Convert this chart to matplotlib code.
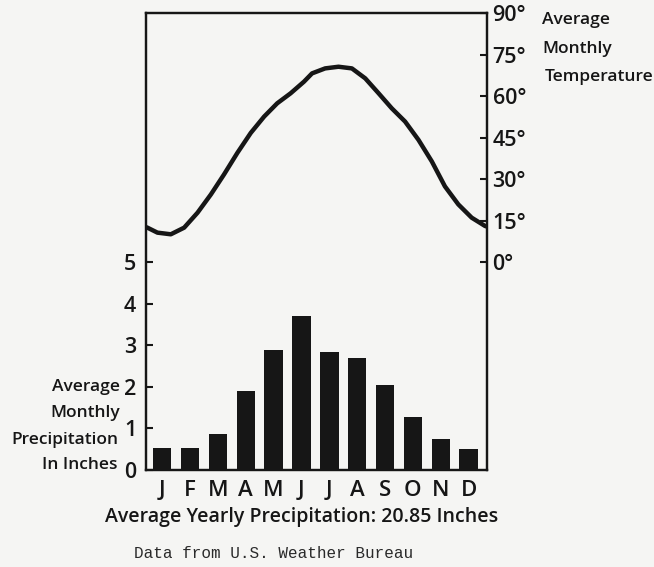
import matplotlib
matplotlib.use("Agg")
import matplotlib.pyplot as plt

# Monthly precipitation (inches)
months = ["J", "F", "M", "A", "M", "J", "J", "A", "S", "O", "N", "D"]
precip = [0.54, 0.54, 0.86, 1.91, 2.90, 3.70, 2.85, 2.69, 2.04, 1.28, 0.74, 0.50]

# Temperature curve (deg F) (x in month units)
temp_x = [-0.61, -0.53, -0.17, 0.31, 0.79, 1.27, 1.75, 2.22, 2.70, 3.18,
          3.66, 4.13, 4.61, 5.09, 5.38, 5.85, 6.33, 6.81, 7.29, 7.77,
          8.24, 8.72, 9.20, 9.68, 10.15, 10.63, 11.11, 11.59, 11.66]
temp_y = [12.8, 12.5, 10.7, 10.1, 12.5, 17.9, 24.5, 31.7, 39.5, 46.7,
          52.6, 57.4, 61.0, 65.2, 68.2, 70.0, 70.6, 70.0, 66.4, 61.0,
          55.6, 50.8, 44.2, 36.4, 27.4, 20.9, 16.1, 13.1, 12.9]

precip_ticks = [0, 1, 2, 3, 4, 5]
temp_ticks = [0, 15, 30, 45, 60, 75, 90]
temp_labels = ["0°", "15°", "30°", "45°", "60°", "75°", "90°"]

ink = "#161616"
bg = "#f5f5f3"
sans = ["Open Sans", "DejaVu Sans"]

fig = plt.figure(figsize=(6.54, 5.67), dpi=100, facecolor=bg)
ax = fig.add_axes([146 / 654, 1 - 470 / 567, 341 / 654, 457 / 567])
ax.set_facecolor(bg)

x = list(range(len(months)))
ax.bar(x, precip, width=0.66, color=ink, zorder=2)
ax.set_xlim(-0.58, 11.66)
ax.set_ylim(0, 11)
ax.set_yticks(precip_ticks)
ax.set_yticklabels([str(t) for t in precip_ticks], fontsize=15.5, fontweight="semibold",
                   family=sans, color=ink)
ax.set_xticks(x)
ax.set_xticklabels(months, fontsize=16, fontweight="semibold", family=sans, color=ink)
ax.tick_params(axis="x", length=0, pad=7)
ax.tick_params(axis="y", direction="in", length=5, width=1.5, pad=7, color=ink)
for s in ax.spines.values():
    s.set_linewidth(1.6)
    s.set_color(ink)

# right axis for temperature
ax2 = ax.twinx()
ax2.set_ylim(-75, 90)
ax2.plot(temp_x, temp_y, color=ink, lw=3.2, solid_joinstyle="round",
         solid_capstyle="round")
ax2.set_yticks(temp_ticks)
ax2.set_yticklabels(temp_labels, fontsize=15.5, fontweight="semibold", family=sans, color=ink)
ax2.tick_params(axis="y", direction="in", length=5, width=1.5, pad=4, color=ink)
for s in ax2.spines.values():
    s.set_linewidth(1.6)
    s.set_color(ink)

# right side caption
tk = dict(fontsize=12.5, fontweight="semibold", family=sans, color=ink, va="center")
fig.text(542 / 654, 1 - 20 / 567, "Average", ha="left", **tk)
fig.text(542 / 654, 1 - 49 / 567, "Monthly", ha="left", **tk)
fig.text(545 / 654, 1 - 77 / 567, "Temperature", ha="left", **tk)

# left side caption
fig.text(120 / 654, 1 - 387 / 567, "Average", ha="right", **tk)
fig.text(120 / 654, 1 - 413 / 567, "Monthly", ha="right", **tk)
fig.text(118 / 654, 1 - 440 / 567, "Precipitation", ha="right", **tk)
fig.text(118 / 654, 1 - 465 / 567, "In Inches", ha="right", **tk)

fig.text(302 / 654, 1 - 517 / 567, "Average Yearly Precipitation: 20.85 Inches",
         ha="center", va="center", fontsize=14, fontweight="semibold", family=sans, color=ink)
fig.text(274 / 654, 1 - 553 / 567, "Data from U.S. Weather Bureau",
         ha="center", va="center", fontsize=11.5, family=["Liberation Mono", "DejaVu Sans Mono"],
         color="#2a2a2a")

fig.savefig("out.png", dpi=100, facecolor=bg)
